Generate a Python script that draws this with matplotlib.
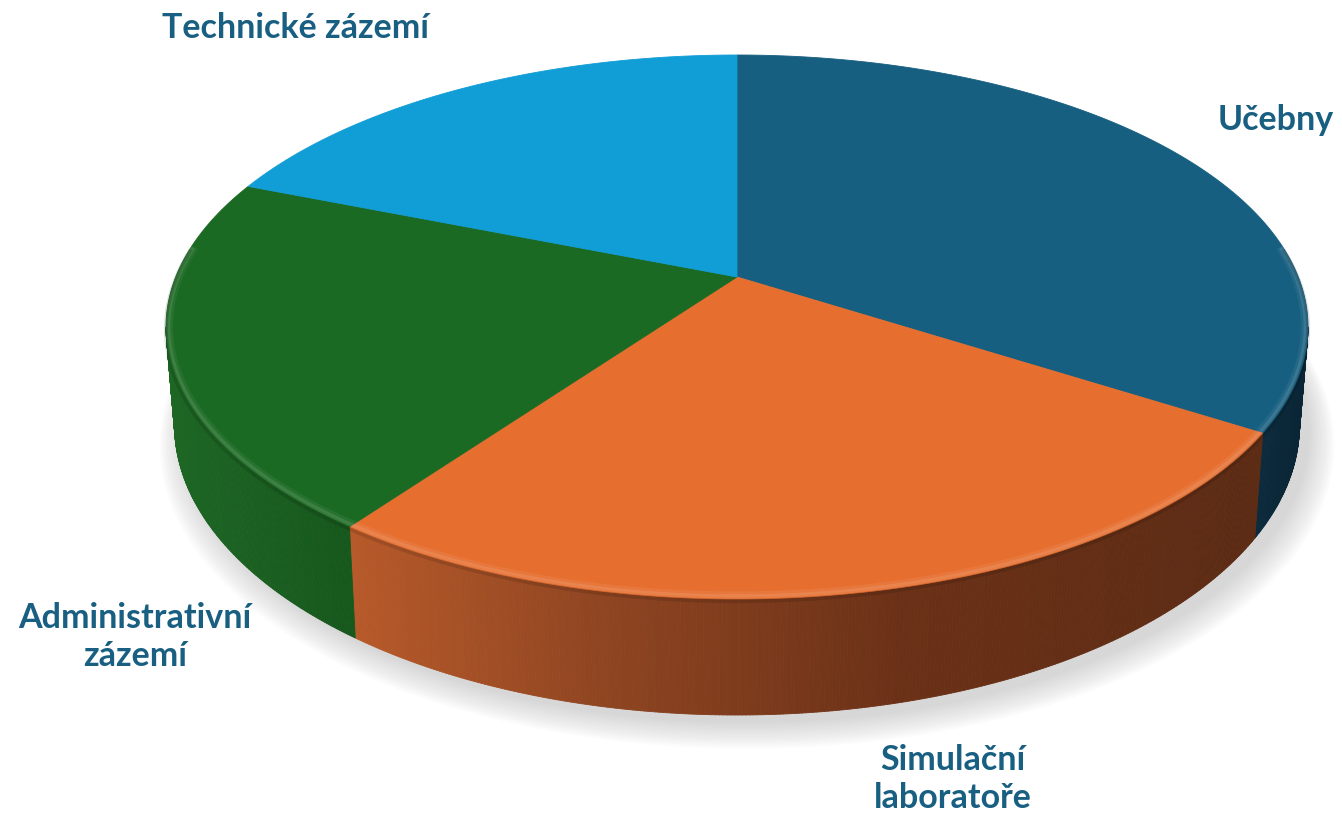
import numpy as np
import matplotlib
matplotlib.use("Agg")
import matplotlib.pyplot as plt
from matplotlib.collections import PolyCollection
from matplotlib.patches import Polygon

# ---- data ----
categories = ['Učebny', 'Simulační\nlaboratoře', 'Administrativní\nzázemí', 'Technické zázemí']
values = [34, 26, 21, 19]
top_colors = ['#175F80', '#E66F30', '#1B6A23', '#119DD6']

# ---- geometry / style ----
CX, CY = 737, 277
A, B, K = 561.3, 262.8, 0.1838
D = 94.7
BOT_SCALE = 0.985
label_color = '#185F82'

def proj(theta, depth=0.0):
    u = np.sin(theta)
    v = -np.cos(theta)
    w = 1 - K * v
    scale = 1 - (1 - BOT_SCALE) * depth
    X = CX + scale * A * u / w
    Y = CY + B * v / w + depth * D / w
    return X, Y

def hex2rgb(h):
    h = h.lstrip('#')
    return np.array([int(h[i:i + 2], 16) / 255 for i in (0, 2, 4)])

side_grad = {
    0: ([1250, 1310], ['#0C2C3E', '#0A2535']),
    1: ([345, 600, 900, 1260], ['#B85A2A', '#8F4521', '#6B3117', '#5C2B14']),
    2: ([175, 340], ['#1D6624', '#17581D']),
    3: ([0, 1342], ['#0E7FB0', '#0E7FB0']),
}

def side_color(i, x):
    xs, cs = side_grad[i]
    rgb = np.array([hex2rgb(c) for c in cs])
    return tuple(np.interp(x, xs, rgb[:, j]) for j in range(3))

fig = plt.figure(figsize=(13.42, 8.18), dpi=100)
ax = fig.add_axes([0, 0, 1, 1])
ax.set_xlim(0, 1342)
ax.set_ylim(818, 0)
ax.axis('off')

fr = np.array(values, dtype=float) / np.sum(values)
bounds = np.concatenate([[0], np.cumsum(fr)]) * 2 * np.pi

# ---- shadow ----
tt = np.linspace(0, 2 * np.pi, 400)
bx, by = proj(tt, 1.0)
for n in range(12):
    s = 1.0 + 0.004 * n
    sx = CX + (bx - CX) * s + 10
    sy = CY + 160 + (by - CY - 160) * s + 8 + 1.2 * n
    ax.add_patch(Polygon(np.column_stack([sx, sy]), closed=True,
                         facecolor='#9a9a9a', edgecolor='none', alpha=0.035, zorder=1))

# ---- sides ----
t_lo = np.arccos(-K)
t_hi = 2 * np.pi - np.arccos(-K)
polys, cols = [], []
for i in range(len(values)):
    a0, a1 = max(bounds[i], t_lo), min(bounds[i + 1], t_hi)
    if a1 <= a0:
        continue
    ts = np.linspace(a0, a1, max(int((a1 - a0) * 180), 4))
    for j in range(len(ts) - 1):
        x0, y0 = proj(ts[j], 0)
        x1, y1 = proj(ts[j + 1], 0)
        x2, y2 = proj(ts[j + 1], 1)
        x3, y3 = proj(ts[j], 1)
        polys.append([(x0, y0), (x1, y1), (x2, y2), (x3, y3)])
        cols.append(side_color(i, (x0 + x1) / 2))
pc = PolyCollection(polys, facecolors=cols, edgecolors=cols, linewidths=0.6, zorder=2)
ax.add_collection(pc)

# ---- top face ----
for i in range(len(values)):
    ts = np.linspace(bounds[i], bounds[i + 1], 300)
    x, y = proj(ts, 0)
    pts = np.column_stack([np.r_[CX, x], np.r_[CY, y]])
    ax.add_patch(Polygon(pts, closed=True, facecolor=top_colors[i],
                         edgecolor=top_colors[i], linewidth=0.6, zorder=3))

# ---- soft bevel highlight along front edge ----
for i in range(len(values)):
    a0, a1 = max(bounds[i], t_lo - 0.3), min(bounds[i + 1], t_hi + 0.3)
    if a1 <= a0:
        continue
    ts = np.linspace(a0, a1, 300)
    x, y = proj(ts, 0)
    for sc, al, lw in [(0.992, 0.10, 3), (0.985, 0.06, 4)]:
        ax.plot(CX + (x - CX) * (0.5 + sc / 2), CY + (y - CY) * sc, color='white',
                alpha=al, lw=lw, zorder=4, solid_capstyle='butt')
    ax.plot(x, y + 2, color='black', alpha=0.12, lw=3, zorder=4, solid_capstyle='butt')

# ---- labels ----
lab_pos = [(1276, 120), (953, 779), (135, 637), (296, 28)]
for (lx, ly), txt in zip(lab_pos, categories):
    ax.text(lx, ly, txt, ha='center', va='center', fontsize=24.5, fontweight='bold',
            family=['Lato', 'DejaVu Sans'], color=label_color, linespacing=1.2, zorder=6)

fig.savefig('out.png', dpi=100, facecolor='white')
